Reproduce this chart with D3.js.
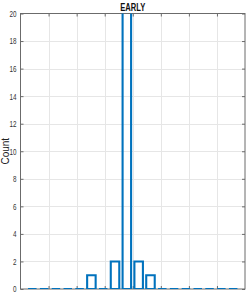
<!DOCTYPE html>
<html><head><meta charset="utf-8">
<script src="https://cdn.jsdelivr.net/npm/d3@7"></script>
<style>
html,body{margin:0;padding:0;background:#fff;}
svg{display:block;}
text{font-family:"Liberation Sans",Arial,sans-serif;}
</style></head>
<body>
<script>
// ---- data ----
const titleText = "EARLY";
const yLabelText = "Count";
const binCenters = [1,2,3,4,5,6,7,8,9,10,11,12,13,14,15,16,17,18];
const counts     = [0,0,0,0,0,1,0,2,40,2,1,0,0,0,0,0,0,0];
const xDomain = [0, 19];
const xGridTicks = [0, 2.375, 4.75, 7.125, 9.5, 11.875, 14.25, 16.625, 19];
const yDomain = [0, 20];
const yTicks = [0,2,4,6,8,10,12,14,16,18,20];

// ---- layout ----
const W = 246, H = 294;
const m = {left:20.5, right:1, top:13.5, bottom:5};
const pw = W - m.left - m.right, ph = H - m.top - m.bottom;

const svg = d3.select("body").append("svg").attr("width",W).attr("height",H);
const x = d3.scaleLinear().domain(xDomain).range([m.left, m.left+pw]);
const y = d3.scaleLinear().domain(yDomain).range([m.top+ph, m.top]);

svg.append("defs").append("clipPath").attr("id","clip")
  .append("rect").attr("x",m.left).attr("y",m.top).attr("width",pw).attr("height",ph);

// grid
const grid = svg.append("g").attr("stroke","#e6e6e6").attr("stroke-width",1);
grid.selectAll(".vg").data(xGridTicks.slice(1,-1)).join("line")
  .attr("x1",d=>Math.round(x(d))+0.5).attr("x2",d=>Math.round(x(d))+0.5)
  .attr("y1",m.top).attr("y2",m.top+ph);
grid.selectAll(".hg").data(yTicks.slice(1,-1)).join("line")
  .attr("y1",d=>Math.round(y(d))+0.5).attr("y2",d=>Math.round(y(d))+0.5)
  .attr("x1",m.left).attr("x2",m.left+pw);

// box
const axc = "#6b6b6b";
svg.append("rect").attr("x",m.left).attr("y",m.top).attr("width",pw).attr("height",ph)
  .attr("fill","none").attr("stroke",axc).attr("stroke-width",1);

// y axis ticks inward (left and right)
const yAxL = d3.axisLeft(y).tickValues(yTicks).tickSize(-3).tickPadding(4).tickSizeOuter(0);
const gL = svg.append("g").attr("transform",`translate(${m.left},0)`).call(yAxL);
gL.select(".domain").remove();
gL.selectAll("line").attr("stroke",axc);
gL.selectAll("text").attr("font-size",9).attr("fill","#333")
  .attr("textLength",d=>String(d).length*3.5).attr("lengthAdjust","spacingAndGlyphs");
const yAxR = d3.axisRight(y).tickValues(yTicks).tickSize(-3).tickFormat("").tickSizeOuter(0);
const gR = svg.append("g").attr("transform",`translate(${m.left+pw},0)`).call(yAxR);
gR.select(".domain").remove();
gR.selectAll("line").attr("stroke",axc);

// x ticks (no labels) top and bottom
const xAxB = d3.axisBottom(x).tickValues(xGridTicks.slice(1,-1)).tickSize(-3).tickFormat("").tickSizeOuter(0);
const gB = svg.append("g").attr("transform",`translate(0,${m.top+ph})`).call(xAxB);
gB.select(".domain").remove();
gB.selectAll("line").attr("stroke",axc);
const xAxT = d3.axisTop(x).tickValues(xGridTicks.slice(1,-1)).tickSize(-3).tickFormat("").tickSizeOuter(0);
const gT = svg.append("g").attr("transform",`translate(0,${m.top})`).call(xAxT);
gT.select(".domain").remove();
gT.selectAll("line").attr("stroke",axc);

// bars (outline)
const bw = (x(1)-x(0))*0.72;
svg.append("g").attr("clip-path","url(#clip)")
  .selectAll("path").data(binCenters.map((c,i)=>({c, v:counts[i]}))).join("path")
  .attr("d",d=>{
    const x0 = x(d.c)-bw/2, x1 = x(d.c)+bw/2, y0 = y(0), y1 = y(d.v);
    return `M${x0},${y0}V${y1}H${x1}V${y0}Z`;
  })
  .attr("fill","none").attr("stroke","#0072BD").attr("stroke-width",2.1);

// title
svg.append("text").attr("x",m.left+pw/2).attr("y",10.5).attr("text-anchor","middle")
  .attr("font-size",10.5).attr("font-weight","bold").attr("fill","#111")
  .attr("textLength",25).attr("lengthAdjust","spacingAndGlyphs").text(titleText);

// y label
svg.append("text").attr("transform",`translate(8.5,${m.top+ph/2}) rotate(-90)`)
  .attr("text-anchor","middle").attr("font-size",10).attr("fill","#222").text(yLabelText);
</script>
</body></html>
